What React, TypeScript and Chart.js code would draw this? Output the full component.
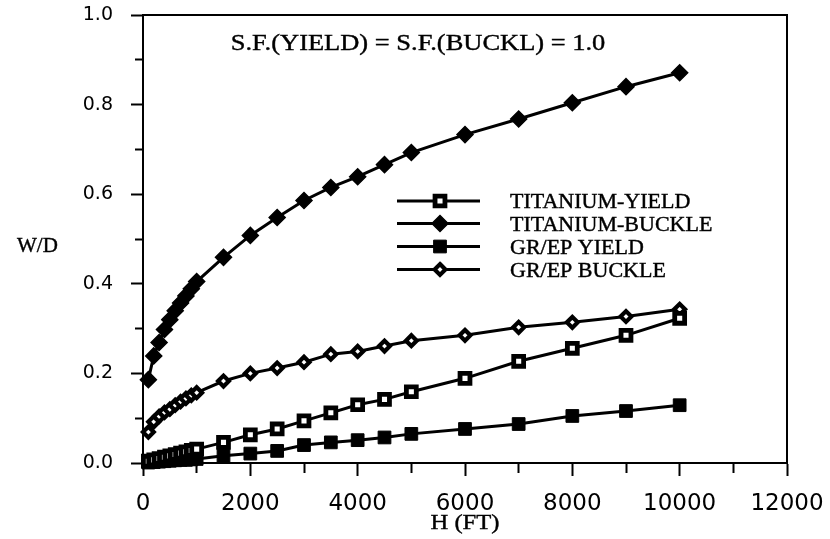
import React, { useEffect, useRef } from 'react';
import { Chart, registerables } from 'chart.js';

Chart.register(...registerables);

// ---- data ----
const H_FT = [100, 200, 300, 400, 500, 600, 700, 800, 900, 1000, 1500, 2000, 2500, 3000, 3500, 4000, 4500, 5000, 6000, 7000, 8000, 9000, 10000];

const TITANIUM_YIELD = [0.004, 0.007, 0.010, 0.013, 0.016, 0.019, 0.022, 0.025, 0.028, 0.031, 0.046, 0.063, 0.076, 0.094, 0.112, 0.130, 0.142, 0.159, 0.189, 0.227, 0.256, 0.285, 0.323];
const TITANIUM_BUCKLE = [0.186, 0.239, 0.269, 0.298, 0.320, 0.340, 0.357, 0.373, 0.389, 0.405, 0.459, 0.508, 0.548, 0.586, 0.615, 0.639, 0.666, 0.693, 0.733, 0.768, 0.804, 0.840, 0.871];
const GREP_YIELD = [0.001, 0.002, 0.003, 0.004, 0.005, 0.006, 0.007, 0.007, 0.008, 0.009, 0.016, 0.021, 0.027, 0.040, 0.046, 0.051, 0.057, 0.065, 0.076, 0.087, 0.105, 0.116, 0.129];
const GREP_BUCKLE = [0.069, 0.092, 0.104, 0.113, 0.120, 0.129, 0.137, 0.144, 0.151, 0.157, 0.183, 0.200, 0.212, 0.225, 0.243, 0.249, 0.261, 0.273, 0.285, 0.303, 0.314, 0.327, 0.343];

const SERIES_LABELS = ['TITANIUM-YIELD', 'TITANIUM-BUCKLE', 'GR/EP YIELD', 'GR/EP BUCKLE'];
const TITLE_TEXT = 'S.F.(YIELD) = S.F.(BUCKL) = 1.0';
const X_TITLE = 'H (FT)';
const Y_TITLE = 'W/D';

const X_MIN = 0, X_MAX = 12000, X_STEP = 1000, X_LABEL_STEP = 2000;
const Y_MIN = 0, Y_MAX = 1.0, Y_STEP = 0.1;

const SERIF = '"Liberation Serif", "Times New Roman", serif';
const SANS = '"DejaVu Sans", sans-serif';

function toPoints(ys: number[]) {
  return H_FT.map((x, i) => ({ x, y: ys[i] }));
}

function drawMarker(ctx: CanvasRenderingContext2D, style: string, r: number, bw: number, bg: string, x: number, y: number) {
  ctx.beginPath();
  if (style === 'rect') {
    const s = r * Math.SQRT1_2;
    ctx.rect(x - s, y - s, 2 * s, 2 * s);
  } else {
    ctx.moveTo(x, y - r);
    ctx.lineTo(x + r, y);
    ctx.lineTo(x, y + r);
    ctx.lineTo(x - r, y);
    ctx.closePath();
  }
  ctx.fillStyle = bg;
  ctx.fill();
  ctx.lineWidth = bw;
  ctx.strokeStyle = '#000';
  ctx.stroke();
}

function drawStretched(ctx: CanvasRenderingContext2D, text: string, x: number, y: number, font: string, sx: number, align: CanvasTextAlign) {
  ctx.save();
  ctx.font = font;
  ctx.fillStyle = '#000';
  ctx.strokeStyle = '#000';
  ctx.lineWidth = 0.4;
  ctx.textAlign = align;
  ctx.textBaseline = 'alphabetic';
  ctx.translate(x, y);
  ctx.scale(sx, 1);
  ctx.fillText(text, 0, 0);
  ctx.strokeText(text, 0, 0);
  ctx.restore();
}

const decorPlugin = {
  id: 'decor',
  afterDraw(chart: any) {
    const { ctx, chartArea } = chart;
    ctx.save();
    // frame (top and right)
    ctx.strokeStyle = '#000';
    ctx.lineWidth = 2;
    ctx.beginPath();
    ctx.moveTo(chartArea.left, chartArea.top);
    ctx.lineTo(chartArea.right, chartArea.top);
    ctx.lineTo(chartArea.right, chartArea.bottom);
    ctx.stroke();

    // title inside plot
    drawStretched(ctx, TITLE_TEXT, 418, 50, `23px ${SERIF}`, 1.15, 'center');

    // axis titles
    drawStretched(ctx, Y_TITLE, 17, 252, `21px ${SERIF}`, 1.0, 'left');
    drawStretched(ctx, X_TITLE, 465, 529, `22px ${SERIF}`, 1.12, 'center');

    // legend
    const rows = [201, 223.5, 246.5, 269.5];
    chart.data.datasets.forEach((ds: any, i: number) => {
      const y = rows[i];
      ctx.strokeStyle = '#000';
      ctx.lineWidth = ds.borderWidth;
      ctx.beginPath();
      ctx.moveTo(397, y);
      ctx.lineTo(480, y);
      ctx.stroke();
      drawMarker(ctx, ds.pointStyle, ds.pointRadius, ds.pointBorderWidth, ds.pointBackgroundColor, 440, y);
      drawStretched(ctx, ds.label, 510, y + 7, `20px ${SERIF}`, 1.1, 'left');
    });
    ctx.restore();
  },
};

export default function App() {
  const canvasRef = useRef<HTMLCanvasElement | null>(null);

  useEffect(() => {
    document.body.style.margin = '0';
    const canvas = canvasRef.current;
    if (!canvas) return;

    const common = {
      borderColor: '#000',
      borderWidth: 3,
      pointBorderColor: '#000',
      tension: 0,
      clip: false as any,
    };

    const chart = new Chart(canvas, {
      type: 'line',
      data: {
        datasets: [
          {
            ...common,
            label: SERIES_LABELS[0],
            data: toPoints(TITANIUM_YIELD),
            pointStyle: 'rect',
            pointRadius: 7,
            pointBorderWidth: 4.8,
            pointBackgroundColor: '#fff',
          },
          {
            ...common,
            label: SERIES_LABELS[1],
            data: toPoints(TITANIUM_BUCKLE),
            pointStyle: 'rectRot',
            pointRadius: 8,
            pointBorderWidth: 1.5,
            pointBackgroundColor: '#000',
          },
          {
            ...common,
            label: SERIES_LABELS[2],
            data: toPoints(GREP_YIELD),
            pointStyle: 'rect',
            pointRadius: 9,
            pointBorderWidth: 1,
            pointBackgroundColor: '#000',
          },
          {
            ...common,
            label: SERIES_LABELS[3],
            data: toPoints(GREP_BUCKLE),
            pointStyle: 'rectRot',
            pointRadius: 5.4,
            pointBorderWidth: 4.2,
            pointBackgroundColor: '#fff',
          },
        ] as any,
      },
      options: {
        animation: false,
        responsive: false,
        maintainAspectRatio: false,
        devicePixelRatio: 1,
        layout: { padding: { left: 0, right: 43, top: 15, bottom: 0 } },
        plugins: {
          legend: { display: false },
          tooltip: { enabled: false },
          title: { display: false },
        },
        events: [],
        scales: {
          x: {
            type: 'linear',
            min: X_MIN,
            max: X_MAX,
            afterFit: (scale: any) => {
              scale.height = 76;
              scale.paddingLeft = 0;
              scale.paddingRight = 0;
            },
            border: { display: true, color: '#000', width: 2 },
            grid: {
              drawOnChartArea: false,
              drawTicks: true,
              tickLength: 13,
              tickWidth: 2,
              tickColor: '#000',
              tickBorderDash: (c: any) => (c.tick && c.tick.value % X_LABEL_STEP === 0 ? [] : [9, 100]),
            } as any,
            ticks: {
              stepSize: X_STEP,
              autoSkip: false,
              maxRotation: 0,
              padding: 14,
              color: '#000',
              font: { family: SANS, size: 23 },
              callback: (v: any) => (Number(v) % X_LABEL_STEP === 0 ? String(v) : ''),
            },
          },
          y: {
            type: 'linear',
            min: Y_MIN,
            max: Y_MAX,
            afterFit: (scale: any) => {
              scale.width = 143;
              scale.paddingTop = 0;
              scale.paddingBottom = 0;
            },
            border: { display: true, color: '#000', width: 2 },
            grid: {
              drawOnChartArea: false,
              drawTicks: true,
              tickLength: 12,
              tickWidth: 2,
              tickColor: '#000',
              tickBorderDash: (c: any) => (c.tick && Math.round(c.tick.value * 10) % 2 === 0 ? [] : [0, 4, 20, 100]),
            } as any,
            ticks: {
              stepSize: Y_STEP,
              autoSkip: false,
              padding: 18,
              color: '#000',
              font: { family: SANS, size: 19 },
              callback: (v: any) => (Math.round(Number(v) * 10) % 2 === 0 ? Number(v).toFixed(1) : ''),
            },
          },
        },
      } as any,
      plugins: [decorPlugin],
    });

    return () => chart.destroy();
  }, []);

  return (
    <div style={{ width: 830, height: 539, background: '#fff' }}>
      <canvas ref={canvasRef} width={830} height={539} style={{ width: 830, height: 539, display: 'block' }} />
    </div>
  );
}
